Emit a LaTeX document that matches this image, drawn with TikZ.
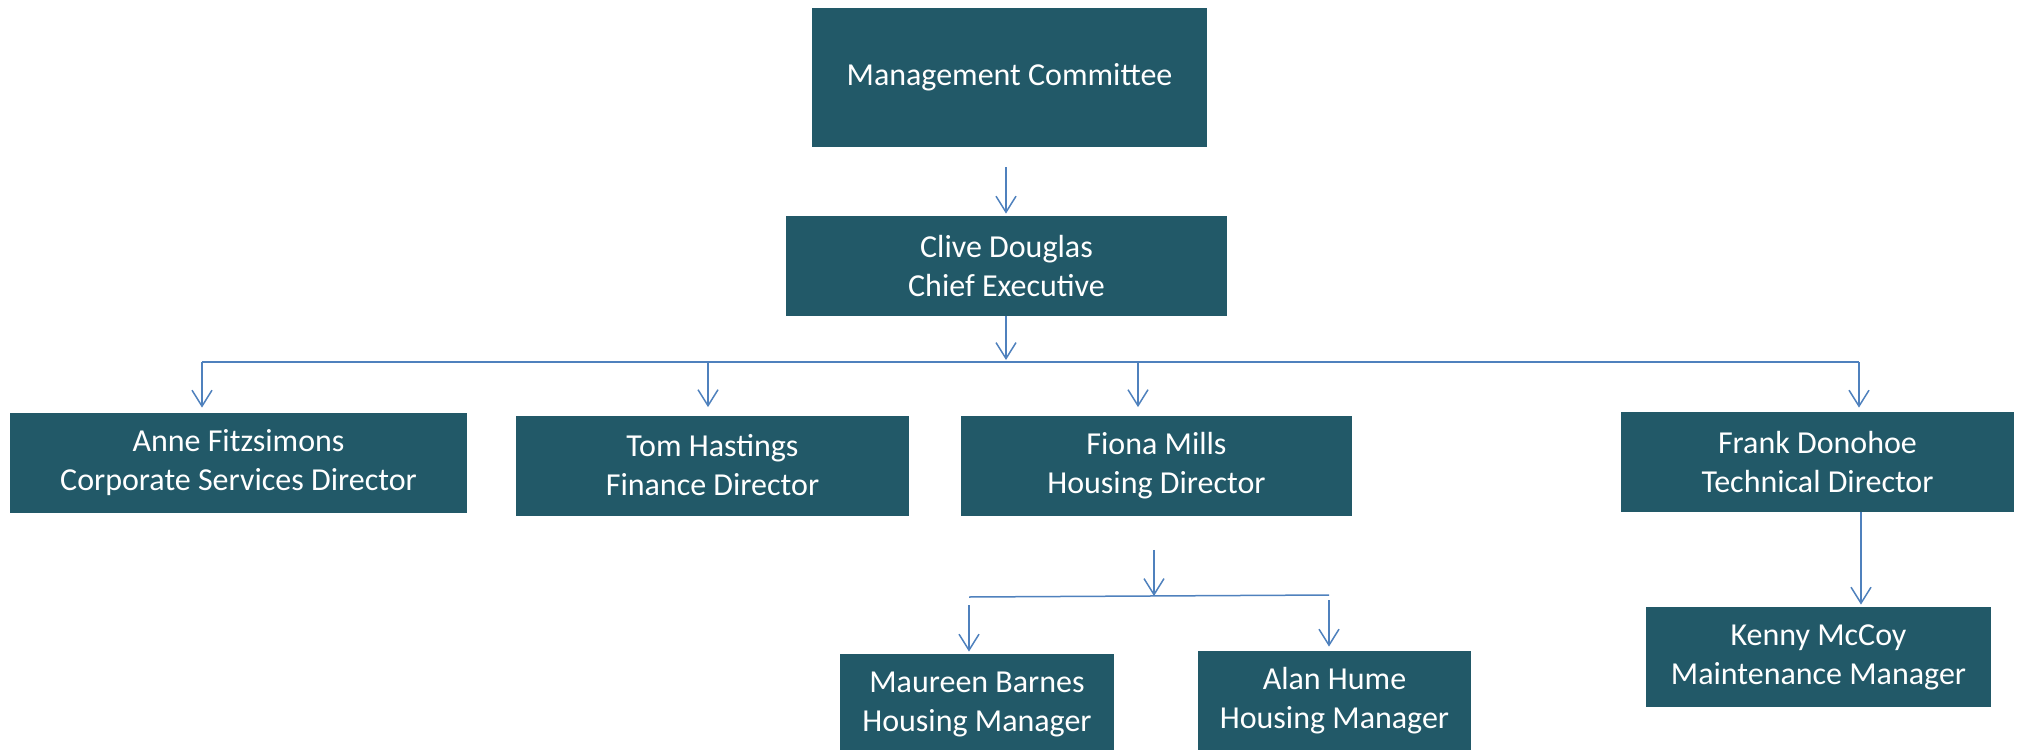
\documentclass[tikz,border=0pt]{standalone}
\usepackage{fontspec}
\setmainfont{Carlito}
\usetikzlibrary{arrows.meta}
\definecolor{boxteal}{RGB}{34,89,104}
\definecolor{linkblue}{RGB}{79,129,189}

\begin{document}
\begin{tikzpicture}[x=0.5pt,y=-0.5pt,
  box/.style={fill=boxteal,text=white,inner sep=0pt,align=center,
    minimum height=50pt,font=\fontsize{16}{19.5}\selectfont},
  link/.style={draw=linkblue,line width=0.75pt},
  arr/.style={link,-{Straight Barb[length=8pt,width=10pt]}}]
  \useasboundingbox (0,0) rectangle (2020,750);

  % top of the tree
  \node[box,minimum width=197.5pt,minimum height=69.5pt] (mc) at (1009.5,77.5) {Management Committee};
  \node[box,minimum width=220.5pt] (cd) at (1006.5,266) {Clive Douglas\\Chief Executive};

  % directors
  \node[box,minimum width=228.5pt] (anne)  at (238.5,463)   {Anne Fitzsimons\\Corporate Services Director};
  \node[box,minimum width=196.5pt] (tom)   at (712.5,465.5) {Tom Hastings\\Finance Director};
  \node[box,minimum width=195.5pt] (fiona) at (1156.5,465.5) {Fiona Mills\\Housing Director};
  \node[box,minimum width=196.5pt] (frank) at (1817.5,462)  {Frank Donohoe\\Technical Director};

  % managers
  \node[box,minimum width=137pt]   (maureen) at (977,704)    {Maureen Barnes\\Housing Manager};
  \node[box,minimum width=136.5pt] (alan)    at (1334.5,701) {Alan Hume\\Housing Manager};
  \node[box,minimum width=172.5pt] (kenny)   at (1818.5,657) {Kenny McCoy\\Maintenance Manager};

  % drop points
  \coordinate (mk)  at (1006,167);
  \coordinate (bus) at (1006,362);
  \coordinate (dA)  at (202,362);
  \coordinate (dT)  at (708,362);
  \coordinate (dF)  at (1138,362);
  \coordinate (dK)  at (1859,362);
  \coordinate (hb)  at (1154,596);
  \coordinate (hL)  at (969,597);
  \coordinate (hR)  at (1329,595);
  \coordinate (fk)  at (1861,512);

  \draw[arr,shorten >=1pt] (mk) -- (mk |- cd.north);
  \draw[arr,shorten >=1pt] (cd.south -| bus) -- (bus);
  \draw[link] (dA) -- (dK);
  \draw[arr,shorten >=2.5pt] (dA) -- (dA |- anne.north);
  \draw[arr,shorten >=4pt]   (dT) -- (dT |- tom.north);
  \draw[arr,shorten >=4pt]   (dF) -- (dF |- fiona.north);
  \draw[arr,shorten >=2pt]   (dK) -- (dK |- frank.north);

  % housing branch
  \draw[arr,shorten <=17pt] (fiona.south -| hb) -- (hb);
  \draw[link] (hL) -- (hR);
  \draw[arr,shorten <=4pt,shorten >=1pt] (hL) -- (hL |- maureen.north);
  \draw[arr,shorten <=2.5pt,shorten >=2pt] (hR) -- (hR |- alan.north);

  % technical branch
  \draw[arr,shorten >=1pt] (fk) -- (fk |- kenny.north);
\end{tikzpicture}
\end{document}
